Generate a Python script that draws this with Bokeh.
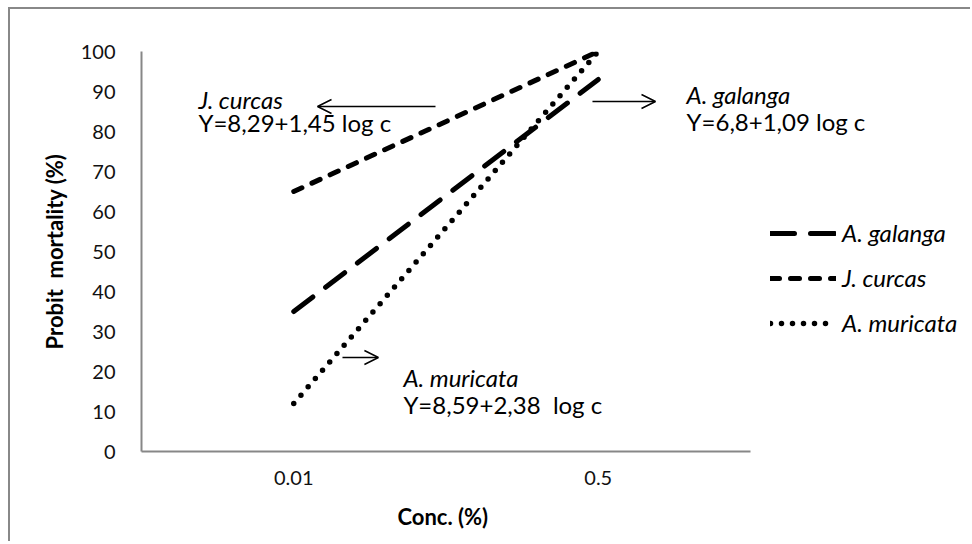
from bokeh.plotting import figure
from bokeh.models import (Range1d, FixedTicker, Legend, LegendItem,
                          Label, Arrow, OpenHead, Title)
from bokeh.embed import file_html
from bokeh.resources import INLINE

# ---- data ----
conc = ["0.01", "0.5"]
galanga = [35, 93]
curcas = [65, 100]
muricata = [12, 100]
y_ticks = [0, 10, 20, 30, 40, 50, 60, 70, 80, 90, 100]

series_names = ["A. galanga", "J. curcas", "A. muricata"]
equations = ["Y=6,8+1,09 log c", "Y=8,29+1,45 log c", "Y=8,59+2,38\u00a0 log c"]

# category positions (centre of each category band)
xpos = [i + 0.5 for i in range(len(conc))]

FONT = "Lato"
GREY = "#878787"

p = figure(width=962, height=534,
           x_range=Range1d(0, 2.729),
           y_range=Range1d(0, 100),
           output_backend="svg", toolbar_location=None,
           min_border_left=131, min_border_right=0,
           min_border_top=42, min_border_bottom=92)
p.styles = {"margin-left": "8px", "margin-top": "7px",
            "border-left": "2px solid #888888", "border-top": "2px solid #888888"}
p.outline_line_color = None
p.xgrid.visible = False
p.ygrid.visible = False
p.background_fill_color = "white"
p.border_fill_color = "white"

for ax in (p.xaxis[0], p.yaxis[0]):
    ax.axis_line_color = GREY
    ax.axis_line_width = 2
    ax.major_tick_line_color = None
    ax.minor_tick_line_color = None
    ax.major_label_text_font = FONT
    ax.major_label_text_font_size = "20px"
    ax.major_label_text_color = "#111111"
    ax.axis_label_text_font = FONT
    ax.axis_label_text_font_style = "bold"
    ax.axis_label_text_font_size = "22px"
    ax.axis_label_text_color = "#000000"

p.yaxis.ticker = FixedTicker(ticks=y_ticks)
p.yaxis.major_label_standoff = 20
p.yaxis.axis_label = "Probit\u00a0 mortality (%)"
p.yaxis.axis_label_standoff = 10

p.xaxis.ticker = FixedTicker(ticks=xpos)
p.xaxis.major_label_overrides = {x: c for x, c in zip(xpos, conc)}
p.xaxis.bounds = (0, len(conc))
p.xaxis.major_label_standoff = 13

# x-axis title centred under the category axis (not under the whole frame)
p.add_layout(Title(text="Conc. (%)", align="left", offset=256, standoff=26,
                   text_font=FONT, text_font_style="bold", text_font_size="22px",
                   text_color="#000000"), "below")

# lines
r_gal = p.line(xpos, galanga, line_color="black", line_width=5,
               line_dash="24 16", line_cap="round")
r_cur = p.line(xpos, curcas, line_color="black", line_width=5,
               line_dash="9 11", line_cap="round")
r_mur = p.line(xpos, muricata, line_color="black", line_width=5.5,
               line_dash="0 11", line_cap="round")

legend = Legend(items=[LegendItem(label=series_names[0], renderers=[r_gal]),
                       LegendItem(label=series_names[1], renderers=[r_cur]),
                       LegendItem(label=series_names[2], renderers=[r_mur])],
                location=(629, 114), padding=0, margin=0, spacing=16,
                glyph_width=66, glyph_height=24, label_height=24,
                label_standoff=6,
                label_text_font=FONT, label_text_font_style="italic",
                label_text_font_size="24px", label_text_color="#000000",
                border_line_color=None, background_fill_alpha=0)
p.add_layout(legend, "center")

# annotations (x in category units, y in data units)
ann_x = [1.79, 0.187, 0.860]
name_y = [89.25, 88.0, 18.5]
eq_y = [82.5, 82.25, 11.75]
for nx, ny, ey, nm, eq in zip(ann_x, name_y, eq_y, series_names, equations):
    p.add_layout(Label(x=nx, y=ny, text=nm, text_font=FONT, text_font_style="italic",
                       text_font_size="24px", text_baseline="middle", text_color="#000000"))
    p.add_layout(Label(x=nx, y=ey, text=eq, text_font=FONT,
                       text_font_size="24px", text_baseline="middle", text_color="#000000"))

arrow_start_x = [1.481, 0.9655, 0.660]
arrow_end_x = [1.688, 0.578, 0.778]
arrow_y = [87.5, 86.25, 23.5]
for sx, ex, ay in zip(arrow_start_x, arrow_end_x, arrow_y):
    p.add_layout(Arrow(end=OpenHead(size=14, line_width=1.5, line_color="black"),
                       x_start=sx, y_start=ay, x_end=ex, y_end=ay,
                       line_width=1.5, line_color="black"))

open("out.html", "w").write(file_html(p, INLINE))
